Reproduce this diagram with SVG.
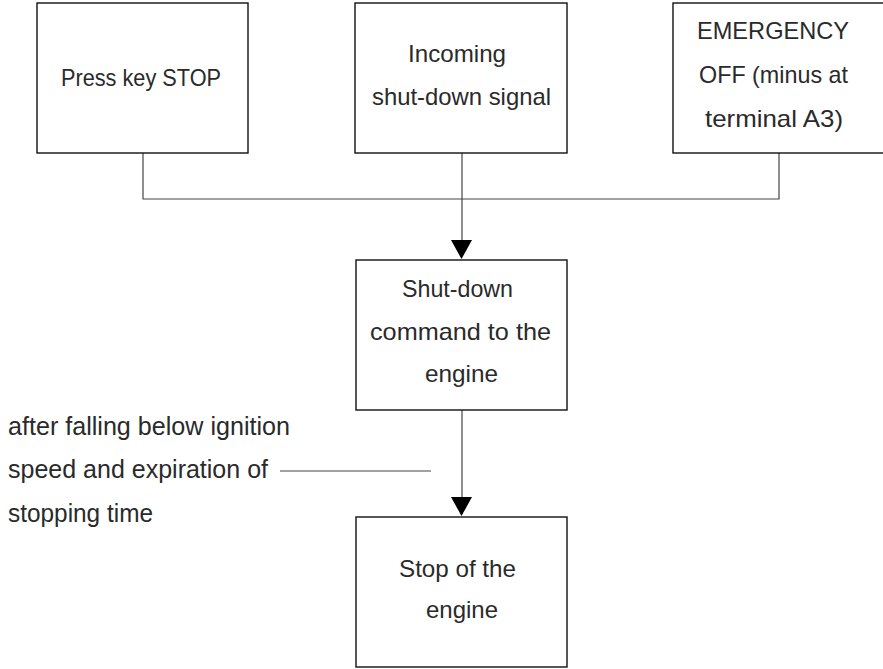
<svg xmlns="http://www.w3.org/2000/svg" width="883" height="669" viewBox="0 0 883 669">
<style>
.box{fill:#fff;stroke:#111;stroke-width:1.4}
.ln{fill:none;stroke:#444;stroke-width:1.2}
text{font-family:"Liberation Sans",Arial,sans-serif;font-size:24px;fill:#2a2a2a;text-anchor:middle}
.l{text-anchor:start;font-size:25px}
</style>
<rect width="883" height="669" fill="#fff"/>
<g id="connectors">
<polyline class="ln" points="143,153 143,199 779,199 779,153"/>
<line class="ln" x1="462" y1="153" x2="462" y2="240"/>
<path d="M451,240 L472,240 L461.5,259 Z" fill="#000"/>
<line class="ln" x1="462" y1="410" x2="462" y2="497"/>
<path d="M451,497 L472,497 L461.5,516 Z" fill="#000"/>
<line class="ln" x1="280" y1="471" x2="431" y2="471" stroke="#666"/>
</g>
<g id="n1">
<rect class="box" x="37" y="3" width="211" height="150"/>
<text x="141" y="86" textLength="160" lengthAdjust="spacingAndGlyphs">Press key STOP</text>
</g>
<g id="n2">
<rect class="box" x="355" y="3" width="212" height="150"/>
<text x="457" y="62" textLength="98" lengthAdjust="spacingAndGlyphs">Incoming</text>
<text x="461.5" y="105" textLength="179" lengthAdjust="spacingAndGlyphs">shut-down signal</text>
</g>
<g id="n3">
<rect class="box" x="673" y="3" width="230" height="150"/>
<text x="773" y="39" textLength="152" lengthAdjust="spacingAndGlyphs">EMERGENCY</text>
<text x="773.5" y="83" textLength="149" lengthAdjust="spacingAndGlyphs">OFF (minus at</text>
<text x="774" y="127" textLength="138" lengthAdjust="spacingAndGlyphs">terminal A3)</text>
</g>
<g id="n4">
<rect class="box" x="356" y="260" width="211" height="150"/>
<text x="457.5" y="297" textLength="111" lengthAdjust="spacingAndGlyphs">Shut-down</text>
<text x="460.5" y="340" textLength="181" lengthAdjust="spacingAndGlyphs">command to the</text>
<text x="461.5" y="382" textLength="73" lengthAdjust="spacingAndGlyphs">engine</text>
</g>
<g id="n5">
<rect class="box" x="356" y="517" width="211" height="150"/>
<text x="457.5" y="577" textLength="117" lengthAdjust="spacingAndGlyphs">Stop of the</text>
<text x="462" y="618" textLength="72" lengthAdjust="spacingAndGlyphs">engine</text>
</g>
<g id="label">
<text class="l" x="8" y="435" textLength="282" lengthAdjust="spacingAndGlyphs">after falling below ignition</text>
<text class="l" x="8" y="478" textLength="260" lengthAdjust="spacingAndGlyphs">speed and expiration of</text>
<text class="l" x="8" y="522" textLength="145" lengthAdjust="spacingAndGlyphs">stopping time</text>
</g>
</svg>
